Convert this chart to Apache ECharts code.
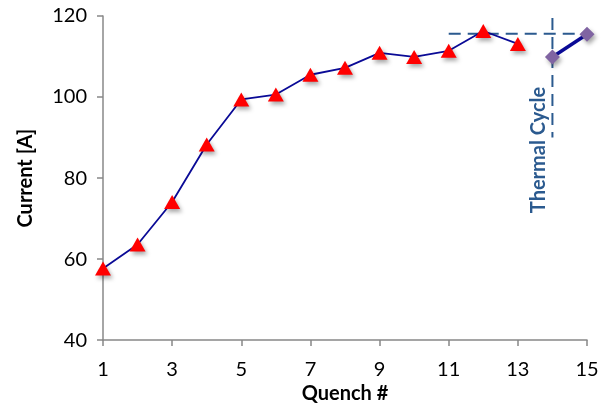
<!DOCTYPE html>
<html><head><meta charset="utf-8">
<script src="https://cdn.jsdelivr.net/npm/echarts@6/dist/echarts.min.js"></script>
<style>html,body{margin:0;padding:0;background:#fff}#c{width:613px;height:409px}</style>
</head><body><div id="c"></div>
<script>
const quench1 = [1,2,3,4,5,6,7,8,9,10,11,12,13];
const current1 = [57.7,63.6,74.1,88.3,99.4,100.6,105.5,107.2,110.9,109.9,111.4,116.3,113.1];
const quench2 = [14,15];
const current2 = [109.9,115.5];
const hLine = [[11,115.6],[15,115.6]];
const vLine = [[14,119.5],[14,90]];
const xTicks = [1,3,5,7,9,11,13,15];
const yTicks = [40,60,80,100,120];

const font = 'Lato, "Open Sans", sans-serif';
const shadow = {shadowColor:'rgba(0,0,0,0.35)',shadowBlur:4,shadowOffsetX:2,shadowOffsetY:3};
const chart = echarts.init(document.getElementById('c'));
chart.setOption({
  animation:false,
  grid:{left:103,right:26,top:16,bottom:67},
  xAxis:{type:'value',min:xTicks[0],max:xTicks[xTicks.length-1],interval:2,
    name:'Quench #',nameLocation:'middle',nameGap:43,
    nameTextStyle:{fontFamily:font,fontWeight:'bold',fontSize:20,color:'#000'},
    axisLine:{lineStyle:{color:'#888',width:1.5}},
    axisTick:{show:true,length:6,lineStyle:{color:'#888',width:1.5}},
    axisLabel:{fontFamily:font,fontSize:20,color:'#000',margin:19},
    splitLine:{show:false}},
  yAxis:{type:'value',min:yTicks[0],max:yTicks[yTicks.length-1],interval:20,
    name:'Current [A]',nameLocation:'middle',nameGap:67,
    nameTextStyle:{fontFamily:font,fontWeight:'bold',fontSize:20,color:'#000'},
    axisLine:{show:true,lineStyle:{color:'#888',width:1.5}},
    axisTick:{show:true,length:6,lineStyle:{color:'#888',width:1.5}},
    axisLabel:{fontFamily:font,fontSize:20,color:'#000',margin:16},
    splitLine:{show:false}},
  series:[
    {type:'line',data:hLine.map(p=>p),symbol:'none',silent:true,
      lineStyle:{color:'#2B5A8F',width:2,type:[12,7]}},
    {type:'line',data:vLine.map(p=>p),symbol:'none',silent:true,
      lineStyle:{color:'#2B5A8F',width:2,type:[12,7]}},
    {type:'line',data:quench1.map((q,i)=>[q,current1[i]]),
      lineStyle:{color:'#0A0A96',width:1.8},
      symbol:'triangle',symbolSize:[16,14],
      itemStyle:Object.assign({color:'#FF0000'},shadow)},
    {type:'line',data:quench2.map((q,i)=>[q,current2[i]]),
      lineStyle:{color:'#0A0A96',width:3.5},
      symbol:'diamond',symbolSize:[15,15],
      itemStyle:Object.assign({color:'#8064A2'},shadow)}
  ],
  graphic:[{type:'text',x:539,y:150,rotation:Math.PI/2,
    style:{text:'Thermal Cycle',fontFamily:font,fontWeight:'bold',fontSize:20,fill:'#2B5A8F',
      align:'center',verticalAlign:'middle'}}]
});
</script></body></html>
